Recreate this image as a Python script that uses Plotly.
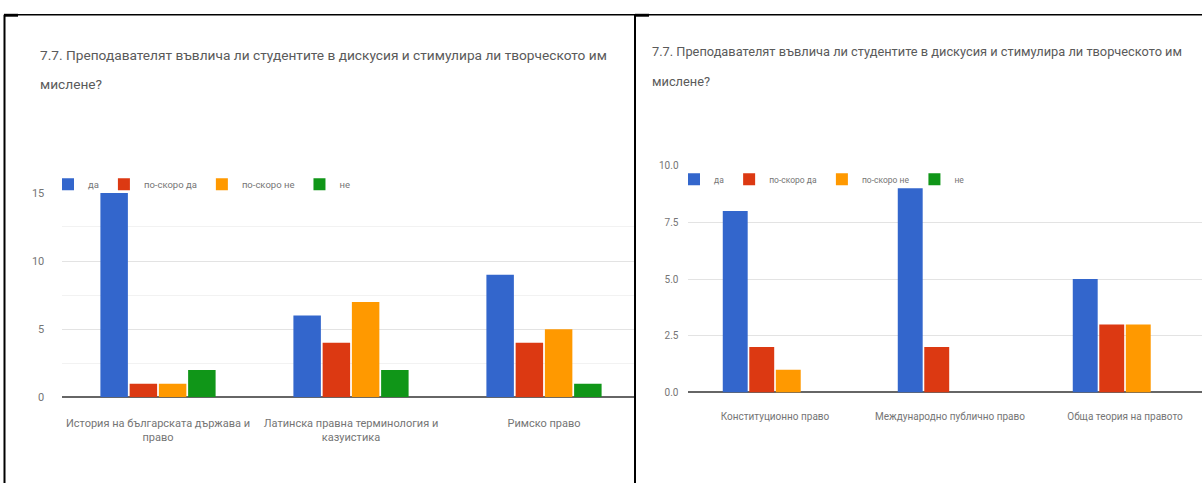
import plotly.graph_objects as go

# ---- data ----
series_names = ["да", "по-скоро да", "по-скоро не", "не"]
series_colors = ["#3366CC", "#DC3912", "#FF9900", "#109618"]

left_categories = ["История на българската държава и право",
                   "Латинска правна терминология и казуистика",
                   "Римско право"]
left_ticklabels = ["История на българската държава и<br>право",
                   "Латинска правна терминология и<br>казуистика",
                   "Римско право"]
left_da = [15, 6, 9]
left_poskoro_da = [1, 4, 4]
left_poskoro_ne = [1, 7, 5]
left_ne = [2, 2, 1]

right_categories = ["Конституционно право",
                    "Международно публично право",
                    "Обща теория на правото"]
right_da = [8, 9, 5]
right_poskoro_da = [2, 2, 3]
right_poskoro_ne = [1, 0, 3]
right_ne = [0, 0, 0]

title_line1 = "7.7. Преподавателят въвлича ли студентите в дискусия и стимулира ли творческото им"
title_line2 = "мислене?"

W, H = 1202, 490
def px(x):
    return x / W
def py(y):
    return 1 - y / H

FONT = "Roboto, Arial, sans-serif"
TICK_COLOR = "#757575"
TITLE_COLOR = "#5a5a5a"

fig = go.Figure()

left_vals = [left_da, left_poskoro_da, left_poskoro_ne, left_ne]
right_vals = [right_da, right_poskoro_da, right_poskoro_ne, right_ne]

for name, color, vals in zip(series_names, series_colors, left_vals):
    fig.add_trace(go.Bar(x=left_categories, y=vals, name=name,
                         marker=dict(color=color, line=dict(width=0)),
                         xaxis="x", yaxis="y", legend="legend",
                         hoverinfo="x+y+name"))
for name, color, vals in zip(series_names, series_colors, right_vals):
    fig.add_trace(go.Bar(x=right_categories, y=vals, name=name,
                         marker=dict(color=color, line=dict(width=0)),
                         xaxis="x2", yaxis="y2", legend="legend2",
                         hoverinfo="x+y+name"))

fig.update_layout(
    xaxis=dict(domain=[px(61.5), px(635)], anchor="y",
               type="category", range=[-0.5, 2.4715],
               tickmode="array", tickvals=left_categories, ticktext=left_ticklabels,
               showgrid=False, zeroline=False, showline=False,
               ticks="outside", ticklen=15, tickcolor="rgba(0,0,0,0)",
               tickfont=dict(family=FONT, size=11, color=TICK_COLOR)),
    yaxis=dict(domain=[py(402), py(192)], anchor="x",
               range=[0, 15], dtick=5, tick0=0,
               showgrid=True, gridcolor="#e3e3e3", gridwidth=1,
               minor=dict(dtick=2.5, tick0=0, showgrid=True, gridcolor="#f2f2f2", gridwidth=1),
               zeroline=True, zerolinecolor="#666666", zerolinewidth=1.5,
               showline=False, ticks="outside", ticklen=14, tickcolor="rgba(0,0,0,0)",
               tickfont=dict(family=FONT, size=11, color=TICK_COLOR)),
    xaxis2=dict(domain=[px(687.5), 1.0], anchor="y2",
                type="category", range=[-0.5, 2.44],
                showgrid=False, zeroline=False, showline=False,
                ticks="outside", ticklen=15, tickcolor="rgba(0,0,0,0)",
                tickfont=dict(family=FONT, size=10, color=TICK_COLOR)),
    yaxis2=dict(domain=[py(397), py(164)], anchor="x2",
                range=[0, 10], dtick=2.5, tick0=0, tickformat=".1f",
                showgrid=True, gridcolor="#e3e3e3", gridwidth=1,
                zeroline=True, zerolinecolor="#666666", zerolinewidth=1.5,
                showline=False, ticks="outside", ticklen=6, tickcolor="rgba(0,0,0,0)",
                tickfont=dict(family=FONT, size=10, color=TICK_COLOR)),
)

fig.update_layout(
    width=W, height=H,
    margin=dict(l=0, r=0, t=0, b=0),
    paper_bgcolor="white", plot_bgcolor="white",
    barmode="group", bargap=0.394, bargroupgap=0.06,
    showlegend=True,
    legend=dict(orientation="h", x=px(48), y=py(183), xanchor="left", yanchor="middle",
                font=dict(family=FONT, size=9.5, color=TICK_COLOR),
                bgcolor="rgba(0,0,0,0)", traceorder="normal"),
    legend2=dict(orientation="h", x=px(674), y=py(178), xanchor="left", yanchor="middle",
                 font=dict(family=FONT, size=8.5, color=TICK_COLOR),
                 bgcolor="rgba(0,0,0,0)", traceorder="normal"),
    font=dict(family=FONT),
)

annotations = []
for x0, y1, y2, size in [(38, 50, 80, 13.7), (650, 47, 78, 12.8)]:
    annotations.append(dict(text=title_line1, x=px(x0), y=py(y1), xref="paper", yref="paper",
                            xanchor="left", yanchor="middle", showarrow=False,
                            font=dict(family=FONT, size=size, color=TITLE_COLOR)))
    annotations.append(dict(text=title_line2, x=px(x0), y=py(y2), xref="paper", yref="paper",
                            xanchor="left", yanchor="middle", showarrow=False,
                            font=dict(family=FONT, size=size, color=TITLE_COLOR)))
fig.update_layout(annotations=annotations)

# frame lines (table borders)
shapes = [
    dict(type="line", xref="paper", yref="paper", x0=px(4), x1=1.0, y0=py(9), y1=py(9),
         line=dict(color="black", width=1.5)),
    dict(type="line", xref="paper", yref="paper", x0=px(4.5), x1=px(4.5), y0=py(9), y1=0,
         line=dict(color="black", width=2)),
    dict(type="line", xref="paper", yref="paper", x0=px(635), x1=px(635), y0=py(9), y1=0,
         line=dict(color="black", width=2)),
    dict(type="rect", xref="paper", yref="paper", x0=px(4), x1=px(18), y0=py(8), y1=py(11),
         fillcolor="black", line=dict(width=0)),
    dict(type="rect", xref="paper", yref="paper", x0=px(635), x1=px(649), y0=py(8), y1=py(11),
         fillcolor="black", line=dict(width=0)),
]
fig.update_layout(shapes=shapes)

fig.write_html("out.html",
               config={"displayModeBar": False},
               post_script="document.body.style.margin='0';document.body.style.overflow='hidden';")
